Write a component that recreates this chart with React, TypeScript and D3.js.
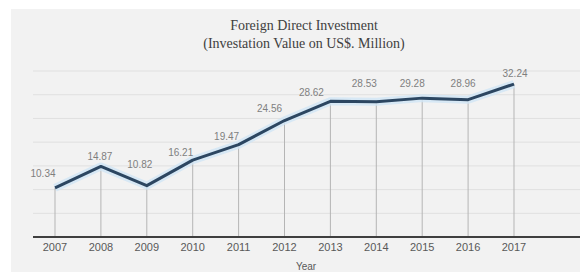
import React, { useEffect, useRef } from "react";
import * as d3 from "d3";

const years = ["2007", "2008", "2009", "2010", "2011", "2012", "2013", "2014", "2015", "2016", "2017"];
const investment = [10.34, 14.87, 10.82, 16.21, 19.47, 24.56, 28.62, 28.53, 29.28, 28.96, 32.24];
const gridTicks = [5, 10, 15, 20, 25, 30, 35];
const titleLines = ["Foreign Direct Investment", "(Investation Value on US$. Million)"];
const xTitle = "Year";

// label nudges (layout only), relative to each point
const labelNudge = [
  [-12, -14], [-1, -10], [-7, -21], [-12, -8], [-12, -8], [-15, -12],
  [-19, -9], [-12, -18], [-10, -15], [-5, -16], [1, -11],
];

const W = 580;
const H = 272;

const App = () => {
  const ref = useRef<SVGSVGElement>(null);

  useEffect(() => {
    const svg = d3.select(ref.current);
    svg.selectAll("*").remove();

    const x = d3.scalePoint<string>().domain(years).range([55, 514]);
    const y = d3.scaleLinear().domain([0, 35]).range([237, 71]);
    const axisLeft = 33;

    // panel
    svg.append("rect").attr("width", W).attr("height", H).attr("fill", "#ffffff");
    svg.append("rect").attr("x", 11).attr("y", 9).attr("width", W - 11).attr("height", H - 9).attr("fill", "#f2f2f2");

    // title
    svg.append("g")
      .selectAll("text")
      .data(titleLines)
      .join("text")
      .attr("x", 304)
      .attr("y", (d, i) => 30 + i * 18)
      .attr("text-anchor", "middle")
      .attr("font-family", "'Liberation Serif', 'Times New Roman', serif")
      .attr("font-size", 14)
      .attr("fill", "#404040")
      .text((d) => d);

    // grid
    svg.append("g")
      .selectAll("line")
      .data(gridTicks)
      .join("line")
      .attr("x1", axisLeft)
      .attr("x2", W)
      .attr("y1", (d) => y(d))
      .attr("y2", (d) => y(d))
      .attr("stroke", "#e0e0e0")
      .attr("stroke-width", 1);

    // drop lines
    svg.append("g")
      .selectAll("line")
      .data(investment)
      .join("line")
      .attr("x1", (d, i) => x(years[i])!)
      .attr("x2", (d, i) => x(years[i])!)
      .attr("y1", (d) => y(d))
      .attr("y2", y(0))
      .attr("stroke", "#b5b5b5")
      .attr("stroke-width", 1);

    // axis
    svg.append("line")
      .attr("x1", axisLeft)
      .attr("x2", W)
      .attr("y1", y(0))
      .attr("y2", y(0))
      .attr("stroke", "#3f3f3f")
      .attr("stroke-width", 2);

    svg.append("g")
      .selectAll("text")
      .data(years)
      .join("text")
      .attr("x", (d) => x(d)!)
      .attr("y", 251)
      .attr("text-anchor", "middle")
      .attr("font-family", "'Liberation Sans', Arial, sans-serif")
      .attr("font-size", 11)
      .attr("fill", "#595959")
      .text((d) => d);

    svg.append("text")
      .attr("x", 306)
      .attr("y", 270)
      .attr("text-anchor", "middle")
      .attr("font-family", "'Liberation Sans', Arial, sans-serif")
      .attr("font-size", 10)
      .attr("fill", "#595959")
      .text(xTitle);

    // line
    const line = d3.line<number>()
      .x((d, i) => x(years[i])!)
      .y((d) => y(d));

    svg.append("path")
      .datum(investment)
      .attr("d", line)
      .attr("fill", "none")
      .attr("stroke", "#cfe5f5")
      .attr("stroke-width", 8)
      .attr("stroke-linejoin", "round")
      .attr("opacity", 0.8);

    svg.append("path")
      .datum(investment)
      .attr("d", line)
      .attr("fill", "none")
      .attr("stroke", "#2c4661")
      .attr("stroke-width", 3)
      .attr("stroke-linejoin", "round");

    // data labels
    svg.append("g")
      .selectAll("text")
      .data(investment)
      .join("text")
      .attr("x", (d, i) => x(years[i])! + labelNudge[i][0])
      .attr("y", (d, i) => y(d) + labelNudge[i][1] + 3.5)
      .attr("text-anchor", "middle")
      .attr("font-family", "'Liberation Sans', Arial, sans-serif")
      .attr("font-size", 10)
      .attr("fill", "#7f7f7f")
      .text((d) => d.toFixed(2));
  }, []);

  return (
    <svg
      ref={ref}
      width={W}
      height={H}
      style={{ position: "absolute", left: 0, top: 0, display: "block" }}
    />
  );
};

export default App;
